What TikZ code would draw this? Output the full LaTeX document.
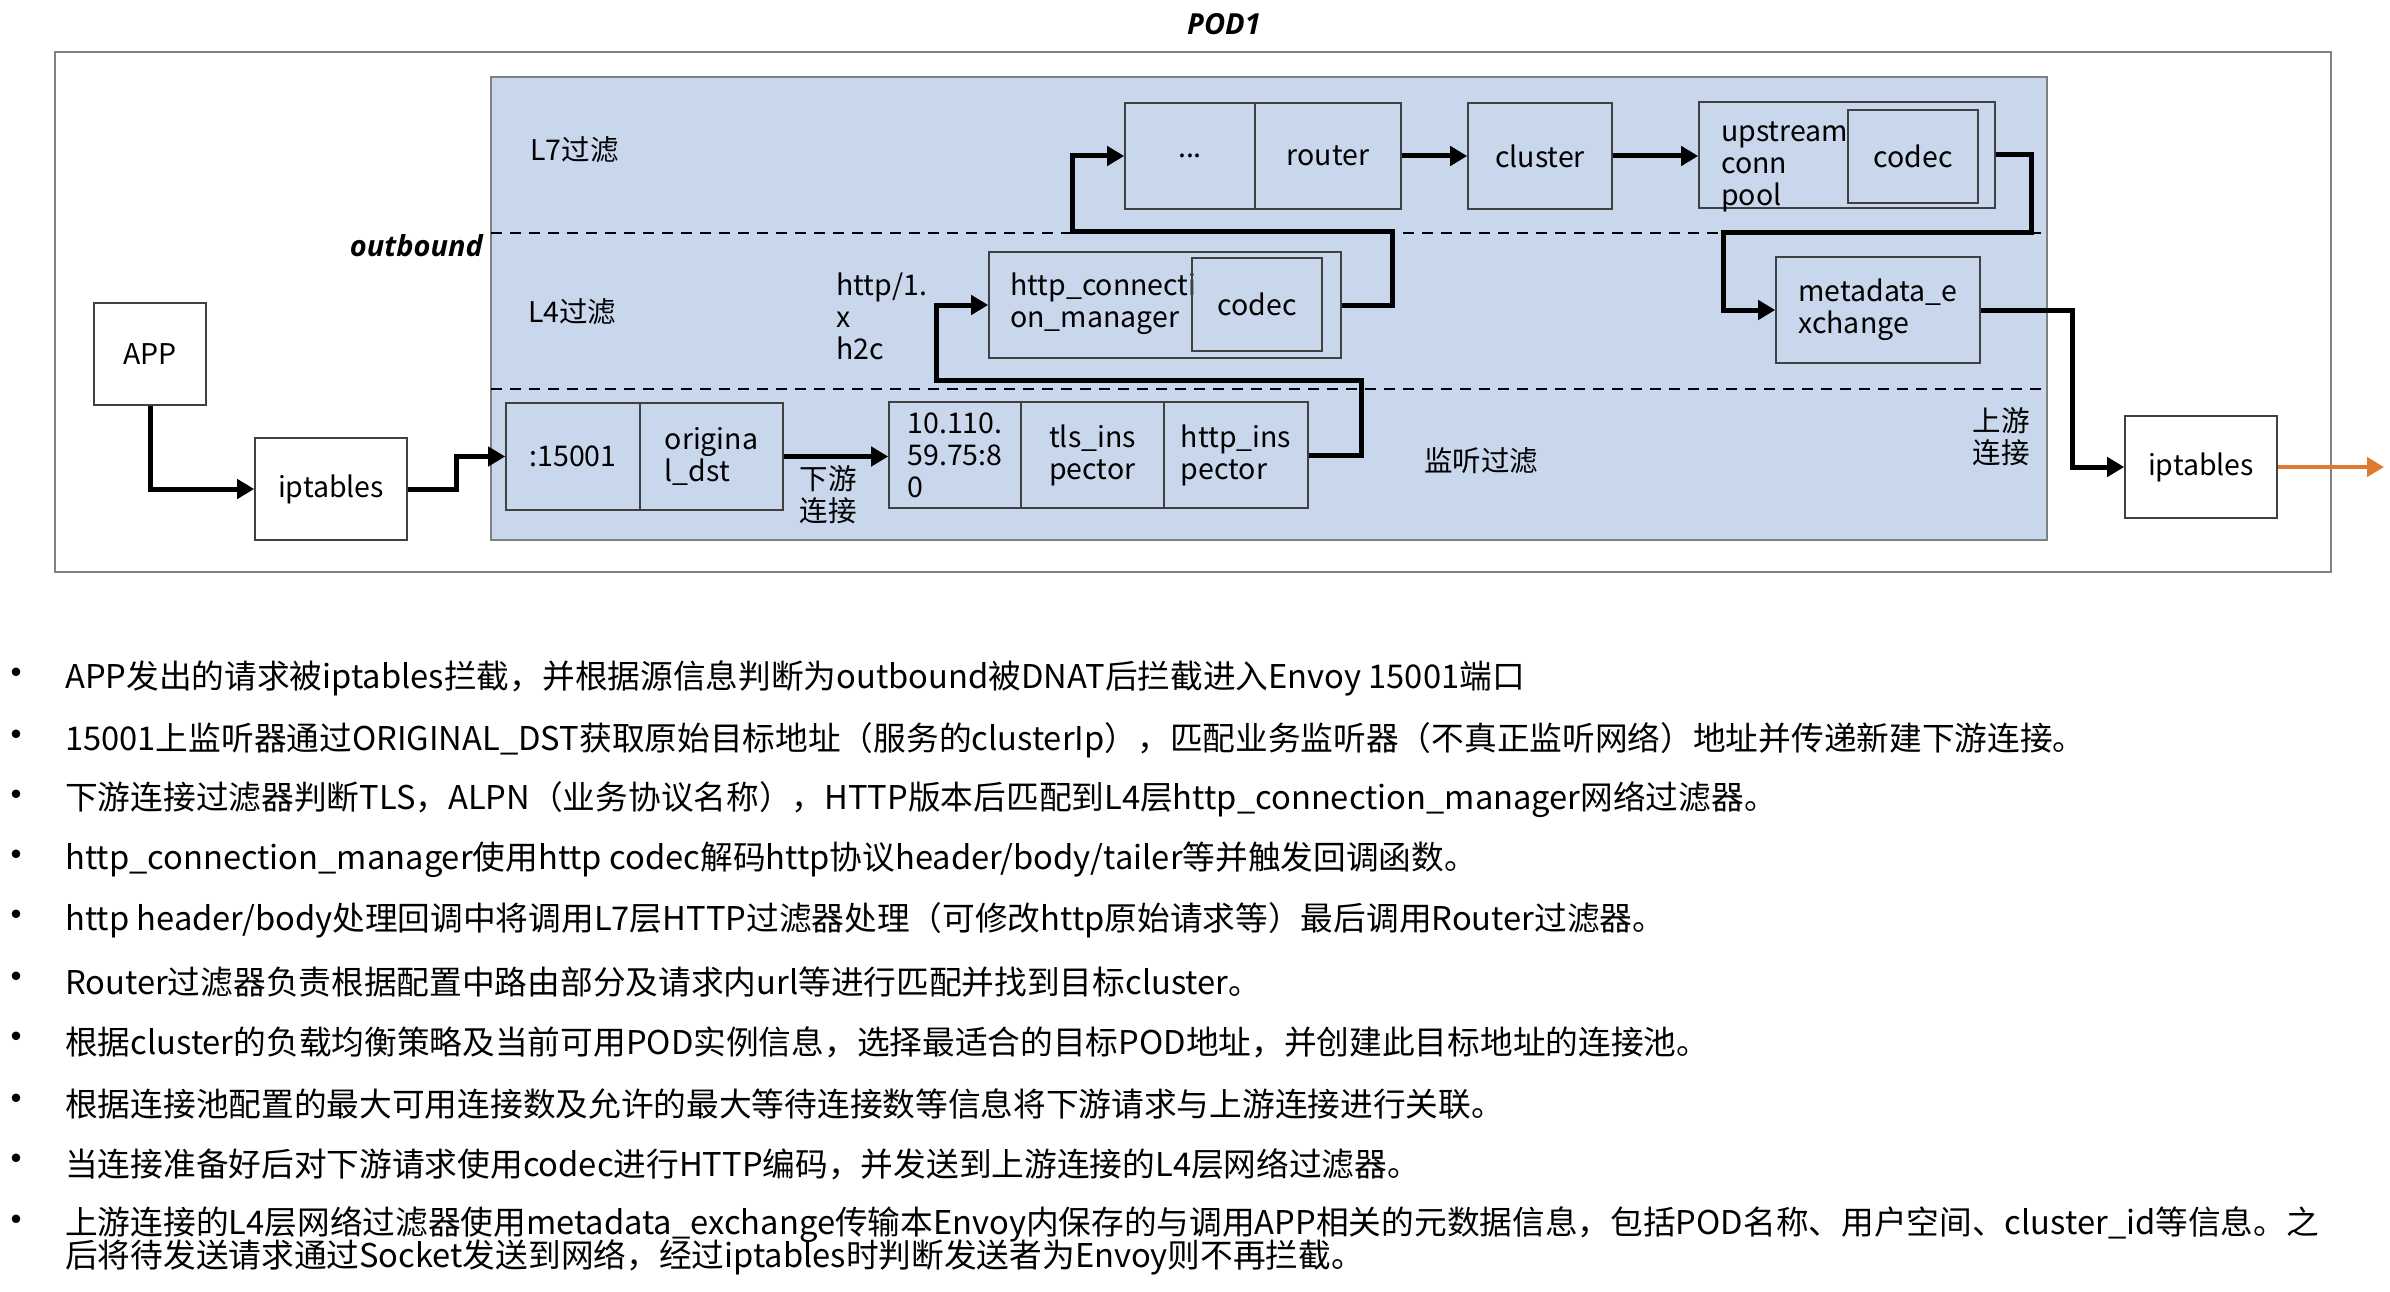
\documentclass[tikz,border=0pt]{standalone}
\usepackage{fontspec}
\setmainfont{Noto Sans CJK SC}
\newfontfamily\bifont{Open Sans}
\usetikzlibrary{arrows.meta}
\definecolor{podblue}{HTML}{C8D7EC}
\definecolor{arrorange}{HTML}{E0782F}
\definecolor{framegray}{HTML}{808080}
\definecolor{boxgray}{HTML}{404040}
\begin{document}
\begin{tikzpicture}[x=1pt,y=-1pt,
  bx/.style={draw=boxgray, line width=1.6pt, fill=white, inner sep=0pt, align=left, font=\fontsize{28.5}{32}\selectfont},
  bbx/.style={draw=boxgray, line width=1.6pt, inner sep=0pt, align=left, font=\fontsize{28.5}{32}\selectfont},
  lbl/.style={inner sep=0pt, align=left, font=\fontsize{28.5}{32}\selectfont},
  bilbl/.style={inner sep=0pt, font=\bifont\bfseries\itshape\fontsize{29}{32}\selectfont},
  bul/.style={inner sep=0pt, anchor=west, font=\fontsize{32.7}{36}\selectfont},
  dotb/.style={inner sep=0pt, font=\fontsize{40}{40}\selectfont},
  conn/.style={line width=5pt, line join=miter, -{Triangle[length=17pt,width=19pt]}},
  oconn/.style={line width=4.5pt, draw=arrorange, -{Triangle[length=17pt,width=19pt]}},
  sep/.style={line width=2.4pt, dash pattern=on 11pt off 8pt}]
\useasboundingbox (0,0) rectangle (2390,1292);
% frames
\node[bilbl] (pod) at (1224,24) {POD1};
\draw[framegray, line width=2pt] (55,52) rectangle (2331,572);
\draw[framegray, line width=2pt, fill=podblue] (491,77) rectangle (2047,540);
\draw[sep] (491,233) -- (2047,233);
\draw[sep] (491,389) -- (2047,389);
% region labels
\node[lbl, anchor=west] (l7) at (530,150) {L7过滤};
\node[lbl, anchor=west] (l4) at (528,312) {L4过滤};
\node[bilbl, anchor=east] (outb) at (483,246) {outbound};
\node[lbl, anchor=west] (proto) at (836,316) {http/1.\\x\\h2c};
\node[lbl, align=center] (down) at (828,495) {下游\\连接};
\node[lbl] (listen) at (1481,461) {监听过滤};
\node[lbl, align=center] (up) at (2001,437) {上游\\连接};
% boxes
\node[bx, minimum width=112, minimum height=102] (app) at (150,354) {APP};
\node[bx, minimum width=152, minimum height=102] (ipt1) at (331,489) {iptables};
\node[bbx, minimum width=134, minimum height=107] (p15001) at (573,456.5) {:15001};
\node[bbx, minimum width=143, minimum height=107] (odst) at (711.5,456.5) {origina\\l\_dst};
\node[bbx, minimum width=132, minimum height=106] (ipbox) at (955,455) {10.110.\\59.75:8\\0};
\node[bbx, minimum width=143, minimum height=106] (tls) at (1092.5,455) {tls\_ins\\pector};
\node[bbx, minimum width=144, minimum height=106] (hins) at (1236,455) {http\_ins\\pector};
\node[bbx, minimum width=352, minimum height=106] (hcm) at (1165,305) {};
\node[lbl, anchor=west] (hcmtxt) at (1010,304) {http\_connecti\\on\_manager};
\node[bbx, minimum width=130, minimum height=93] (hcodec) at (1257,304.5) {codec};
\node[bbx, minimum width=130, minimum height=106] (dots) at (1190,156) {...};
\node[bbx, minimum width=146, minimum height=106] (router) at (1328,156) {router};
\node[bbx, minimum width=144, minimum height=106] (cluster) at (1540,156) {cluster};
\node[bbx, minimum width=296, minimum height=106] (ucp) at (1847,155) {};
\node[lbl, anchor=west] (ucptxt) at (1721,167) {upstream\\conn\\pool};
\node[bbx, minimum width=130, minimum height=93] (ucodec) at (1913,156.5) {codec};
\node[bbx, minimum width=204, minimum height=106] (meta) at (1878,310) {metadata\_e\\xchange};
\node[bx, minimum width=152, minimum height=102] (ipt2) at (2201,467) {iptables};
% connector bends
\coordinate (c4a) at (1361,380);
\coordinate (c4b) at (936,380);
\coordinate (c5a) at (1392,231);
\coordinate (c5b) at (1072,231);
\coordinate (c8a) at (2031,232);
\coordinate (c8b) at (1723,232);
\coordinate (c9) at (2072,310);
\coordinate (c2) at (456,489);
\coordinate (out) at (2384,467);
% connectors
\draw[conn] (app.south) |- (ipt1.west);
\draw[conn] (ipt1.east) -- (c2) |- (p15001.west);
\draw[conn] (odst.east) -- (odst.east -| ipbox.west);
\draw[conn] (hins.east) -| (c4a) -- (c4b) |- (hcm.west);
\draw[conn] (hcm.east) -| (c5a) -- (c5b) |- (dots.west);
\draw[conn] (router.east) -- (cluster.west);
\draw[conn] (cluster.east) -- (cluster.east -| ucp.west);
\draw[conn] (ucp.east) -| (c8a) -- (c8b) |- (meta.west);
\draw[conn] (meta.east) -- (c9) |- (ipt2.west);
\draw[oconn] (ipt2.east) -- (out);
% bullet list
\node[dotb] (b1) at (17,678) {•};
\node[bul] (t1) at (65,678) {APP发出的请求被iptables拦截，并根据源信息判断为outbound被DNAT后拦截进入Envoy 15001端口};
\node[dotb] (b2) at (17,740) {•};
\node[bul] (t2) at (65,740) {15001上监听器通过ORIGINAL\_DST获取原始目标地址（服务的clusterIp），匹配业务监听器（不真正监听网络）地址并传递新建下游连接。};
\node[dotb] (b3) at (17,800) {•};
\node[bul] (t3) at (65,800) {下游连接过滤器判断TLS，ALPN（业务协议名称），HTTP版本后匹配到L4层http\_connection\_manager网络过滤器。};
\node[dotb] (b4) at (17,860) {•};
\node[bul] (t4) at (65,860) {http\_connection\_manager使用http codec解码http协议header/body/tailer等并触发回调函数。};
\node[dotb] (b5) at (17,920) {•};
\node[bul] (t5) at (65,920) {http header/body处理回调中将调用L7层HTTP过滤器处理（可修改http原始请求等）最后调用Router过滤器。};
\node[dotb] (b6) at (17,982) {•};
\node[bul] (t6) at (65,982) {Router过滤器负责根据配置中路由部分及请求内url等进行匹配并找到目标cluster。};
\node[dotb] (b7) at (17,1042) {•};
\node[bul] (t7) at (65,1042) {根据cluster的负载均衡策略及当前可用POD实例信息，选择最适合的目标POD地址，并创建此目标地址的连接池。};
\node[dotb] (b8) at (17,1104) {•};
\node[bul] (t8) at (65,1104) {根据连接池配置的最大可用连接数及允许的最大等待连接数等信息将下游请求与上游连接进行关联。};
\node[dotb] (b9) at (17,1164) {•};
\node[bul] (t9) at (65,1164) {当连接准备好后对下游请求使用codec进行HTTP编码，并发送到上游连接的L4层网络过滤器。};
\node[dotb] (b10) at (17,1225) {•};
\node[bul] (t10) at (65,1225) {上游连接的L4层网络过滤器使用metadata\_exchange传输本Envoy内保存的与调用APP相关的元数据信息，包括POD名称、用户空间、cluster\_id等信息。之};
\node[bul] (t10b) at (65,1257) {后将待发送请求通过Socket发送到网络，经过iptables时判断发送者为Envoy则不再拦截。};
\end{tikzpicture}
\end{document}
